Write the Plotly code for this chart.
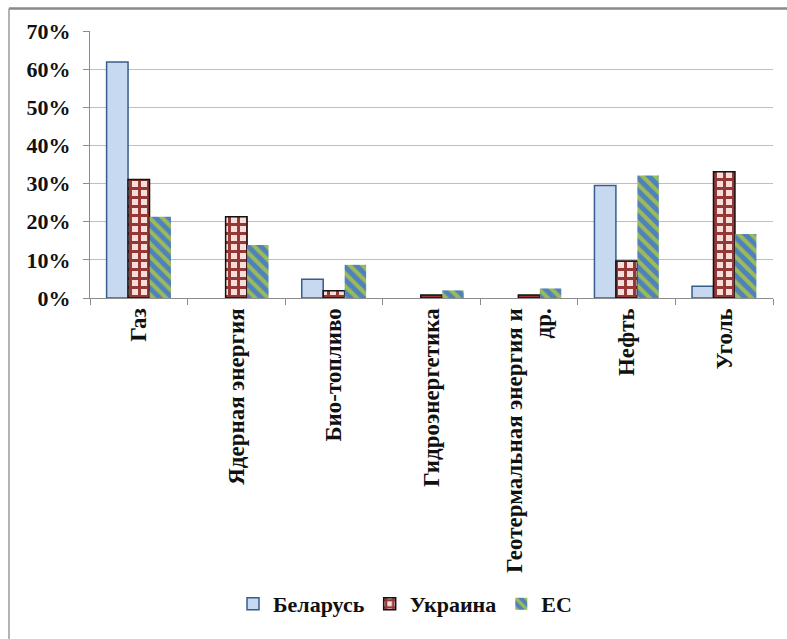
import plotly.graph_objects as go

categories = ["Газ", "Ядерная энергия", "Био-топливо", "Гидроэнергетика",
              "Геотермальная энергия и<br>др.", "Нефть", "Уголь"]
belarus = [0.619, None, 0.049, None, None, 0.295, 0.031]
ukraine = [0.311, 0.213, 0.019, 0.008, 0.008, 0.097, 0.331]
eu = [0.213, 0.139, 0.087, 0.020, 0.025, 0.321, 0.168]
series_names = ["Беларусь", "Украина", "ЕС"]
y_ticks = [0, 0.1, 0.2, 0.3, 0.4, 0.5, 0.6, 0.7]

W, H = 787, 639
L, R, T, B = 90, 14, 31, 341
pw, ph = W - L - R, H - T - B

SERIF = "Liberation Serif"

fig = go.Figure()
fig.add_trace(go.Bar(
    name=series_names[0], x=categories, y=belarus,
    marker=dict(color="#C6D9F1", line=dict(color="#385D8A", width=1.5)),
))
fig.add_trace(go.Bar(
    name=series_names[1], x=categories, y=ukraine,
    marker=dict(color="#F7DEDB", line=dict(color="#111111", width=1.5),
                pattern=dict(shape="+", fgcolor="#953735", bgcolor="#F7DEDB",
                             size=9, solidity=0.55, fillmode="replace")),
))
fig.add_trace(go.Bar(
    name=series_names[2], x=categories, y=eu,
    marker=dict(color="#4F81BD", line=dict(width=0),
                pattern=dict(shape="\\", fgcolor="#9BBB59", bgcolor="#4F81BD",
                             size=9, solidity=0.45, fillmode="replace")),
))

fig.update_layout(
    width=W, height=H,
    margin=dict(l=L, r=R, t=T, b=B, autoexpand=False),
    paper_bgcolor="white", plot_bgcolor="white",
    barmode="group", bargap=0.34, bargroupgap=0,
    showlegend=True,
    legend=dict(orientation="h", x=(405 - L) / pw, xanchor="center",
                y=(298 - 604) / ph, yanchor="middle",
                font=dict(size=22, family=SERIF, weight="bold", color="#111111"),
                itemwidth=30, traceorder="normal", tracegroupgap=0),
    font=dict(family=SERIF, color="#111111"),
)
fig.update_yaxes(
    range=[0, 0.7], tickvals=y_ticks, tickformat=".0%",
    showgrid=True, gridcolor="#A6C8D4", gridwidth=1,
    showline=True, linecolor="#8C8C8C", linewidth=1.2,
    ticks="outside", ticklen=6, tickcolor="#8C8C8C",
    tickfont=dict(size=22, family=SERIF, weight="bold", color="#111111"),
    ticklabelstandoff=8, zeroline=False,
)
fig.update_xaxes(
    showline=True, linecolor="#8C8C8C", linewidth=1.2,
    ticks="outside", ticklen=6, tickcolor="#8C8C8C", tickson="boundaries",
    tickangle=-90, tickfont=dict(size=23, family=SERIF, weight="bold", color="#111111"),
    showgrid=False,
)

# outer chart frame (top and left edges visible)
fx = (9 - L) / pw
fy_top = (H - B - 8.5) / ph
fy_bot = (H - B - 639) / ph
fig.add_shape(type="line", xref="paper", yref="paper", x0=fx, x1=(W - L + 5) / pw,
              y0=fy_top, y1=fy_top, line=dict(color="#8A8A8A", width=2.5))
fig.add_shape(type="line", xref="paper", yref="paper", x0=fx, x1=fx,
              y0=fy_top, y1=fy_bot, line=dict(color="#9A9A9A", width=1.5))

fig.write_html("out.html")
